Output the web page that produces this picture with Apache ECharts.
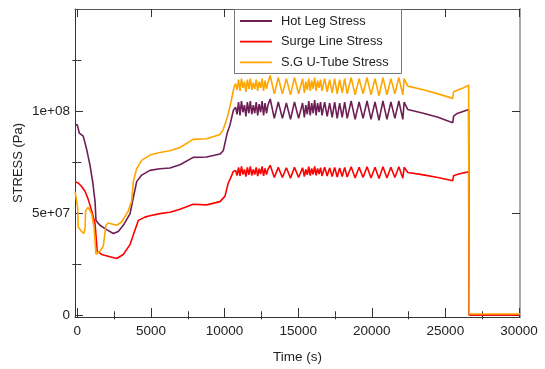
<!DOCTYPE html>
<html>
<head>
<meta charset="utf-8">
<script src="https://cdn.jsdelivr.net/npm/echarts@6/dist/echarts.min.js"></script>
<style>
html,body{margin:0;padding:0;background:#fff;}
#chart{width:545px;height:369px;}
</style>
</head>
<body>
<div id="chart"></div>
<script>
// Values are in units of 1e6 Pa, time in seconds
const UNIT = 1e6;
const seriesNames = ['Hot Leg Stress', 'Surge Line Stress', 'S.G U-Tube Stress'];
const xMajorTicks = [0, 5000, 10000, 15000, 20000, 25000, 30000];
const xMinorTicks = [2500, 7500, 12500, 17500, 22500, 27500];
const yMajorTicks = [0, 5e7, 1e8];
const yMinorTicks = [2.5e7, 7.5e7, 1.25e8];
const yTickLabels = ['0', '5e+07', '1e+08'];

const hotLegEarly = [[-150,93.3],[0,93.3],[130,89.3],[400,87.8],[630,81.4],[860,73.5],[1040,65.5],[1200,56],[1265,46.5],[1535,44.1],[1990,42],[2440,40.1],[2780,41],[3120,44.1],[3575,49.7],[3800,57.6],[4030,65.5],[4370,68.7],[4930,71],[5600,71.8],[6290,72.2],[6970,73.8],[7870,77.4],[8780,77.6],[9690,79],[9910,80.6],[10180,89.3],[10370,93.3],[10600,100.5]];
const surgeEarly = [[-150,65.5],[60,64.8],[290,63.1],[520,60.8],[740,56.8],[970,51.2],[1200,44.9],[1350,31.4],[1650,29.8],[2215,28.7],[2670,27.8],[3120,29.8],[3575,34.6],[3910,41.7],[4140,46.5],[4590,48.1],[4930,48.8],[5600,49.8],[6290,50.5],[6970,52],[7870,54.4],[8780,54.1],[9690,55.7],[10030,58.4],[10250,64.8],[10400,67.1],[10600,70.5]];
const uTubeEarly = [[-150,60.5],[-50,60.5],[20,52.9],[60,43.3],[290,41],[450,40.1],[520,42.5],[560,51.2],[740,52.9],[970,49.7],[1130,43.3],[1265,29.8],[1535,31.4],[1760,33.8],[1940,44.1],[2100,45.2],[2670,44.1],[3010,45.7],[3460,51.2],[3690,56],[3800,65.5],[4030,71.9],[4370,75.9],[4930,78.5],[5600,79.8],[6290,80.6],[6970,82.2],[7870,86.2],[8780,86.5],[9690,88.6],[9910,91],[10200,97.3],[10450,105],[10650,112]];

const plateauTime = [10750,10850,10950,11050,11150,11250,11350,11450,11550,11650,11750,11850,11950,12050,12150,12250,12350,12450,12550,12650,12750,12850,12950,
  13100,13380,13650,13930,14200,14480,14750,15030,15300,
  15420,15520,15620,15720,15820,15920,16020,16120,16220,16320,16420,16520,16620,
  16800,16970,17140,17310,17480,17650,17820,17990,18160,18330,
  18600,18870,19140,19410,19680,19950,20220,20490,20760,21030,21300,21570,21840,22110,
  22200];
const hotLegPlateau = [102,98.5,104.5,98,105,99.5,103,97.5,104.5,99,105,98.5,103,99,104.5,98,103.5,99.5,105,98,104,99,103,
  106,96.5,104.5,96.5,104,96,104.5,96.5,104,
  97,103,98.5,105,98,104,99,105.5,98,104,99.5,104.5,98,
  104.5,97.5,104,97,104.5,96.5,104,97,104.5,96.5,
  105,96,104.5,96.5,105,96,104.5,95.5,105,96,104.5,96.5,105,96,
  104.5];
const surgePlateau = [71,68.5,72.5,68.3,73,69,71.5,68,72.5,68.8,73,68.5,71.5,69,72.5,68.2,71.8,69.2,73,68.3,72,69,71.5,
  73.5,67.5,72.5,67.5,72.3,67.2,72.5,67.5,72.3,
  68,71.5,68.8,72.8,68.5,72,69,73,68.5,72,69.2,72.3,68.3,
  72.5,68.3,72.2,68,72.5,67.8,72.2,68,72.5,67.8,
  72.8,67.3,72.5,67.5,72.8,67.3,72.5,67,72.8,67.3,72.5,67.5,72.8,67.2,
  72.5];
const uTubePlateau = [113.5,110.5,115.5,110,116,111.5,114.5,109.5,115.5,111,116,110.5,114,111,115.5,110,114.5,111.5,116,110,115,111,114,
  117.5,108.5,116.5,108.5,116,108,116.5,108.5,116,
  109,114.5,110.5,116,110,115,111,116.5,110,115,111.5,115.5,110,
  116,109.5,115.5,109,116,108.5,115.5,109,116,108.5,
  116.5,108,116,108.5,116.5,108,116,107.5,116.5,108,116,108.5,116.5,108,
  116];

const hotLegLate = [[22450,100.8],[23500,99],[24500,97],[25500,94.4],[25560,97.6],[25800,98.9],[26250,100],[26580,100.8],[26620,0.2],[30070,0.2]];
const surgeLate = [[22450,70],[23500,68.8],[24500,67.5],[25500,65.9],[25560,68.4],[25800,69],[26250,69.8],[26580,70.3],[26620,0.2],[30070,0.2]];
const uTubeLate = [[22450,112.3],[23500,110.5],[24500,108.5],[25500,106.3],[25560,109.5],[25800,110.3],[26250,111.5],[26580,112.8],[26620,0.6],[30070,0.6]];

function build(early, plateau, late) {
  const pts = [];
  early.forEach(p => pts.push([p[0], p[1] * UNIT]));
  plateauTime.forEach((t, i) => pts.push([t, plateau[i] * UNIT]));
  late.forEach(p => pts.push([p[0], p[1] * UNIT]));
  return pts;
}

const X_MIN = -160, X_MAX = 30070, Y_MIN = -0.85e6, Y_MAX = 150.1e6;
const axisColor = '#333';
const labelFont = { fontFamily: 'Liberation Sans, Arial, sans-serif', fontSize: 13.5, color: '#222' };
// thin horizontal bar icon centred in a 32x14 box (the tiny top/bottom bars only fix the box height)
const lineIcon = 'path://M0,0H32V0.01H0Z M0,6.1H32V7.9H0Z M0,14H32V14.01H0Z';

function xAx(position, ticks, len, opts) {
  return Object.assign({
    type: 'value', position: position, min: X_MIN, max: X_MAX, offset: 0,
    splitLine: { show: false },
    axisLine: { show: false },
    axisTick: { show: true, inside: true, length: len, customValues: ticks, lineStyle: { color: axisColor } },
    axisLabel: { show: false }
  }, opts || {});
}
function yAx(position, ticks, len, opts) {
  return Object.assign({
    type: 'value', position: position, min: Y_MIN, max: Y_MAX, offset: 0,
    splitLine: { show: false },
    axisLine: { show: false },
    axisTick: { show: true, inside: true, length: len, customValues: ticks, lineStyle: { color: axisColor } },
    axisLabel: { show: false }
  }, opts || {});
}

const chart = echarts.init(document.getElementById('chart'), null, { renderer: 'canvas' });
chart.setOption({
  animation: false,
  backgroundColor: '#fff',
  grid: { left: 75, top: 9, width: 445, height: 317, containLabel: false, show: false },
  xAxis: [
    xAx('bottom', xMajorTicks, 9, {
      axisLine: { show: true, onZero: false, lineStyle: { color: axisColor, width: 1 } },
      axisLabel: { show: true, customValues: xMajorTicks, margin: 7, formatter: v => String(v), ...labelFont },
      name: 'Time (s)', nameLocation: 'middle', nameGap: 33,
      nameTextStyle: { fontFamily: 'Liberation Sans, Arial, sans-serif', fontSize: 13.5, color: '#222' }
    }),
    xAx('bottom', xMinorTicks, 4),
    xAx('top', xMajorTicks, 8, { axisLine: { show: true, onZero: false, lineStyle: { color: '#555', width: 1 } } }),
    xAx('top', xMinorTicks, 4)
  ],
  yAxis: [
    yAx('left', yMajorTicks, 8, {
      axisLine: { show: true, onZero: false, lineStyle: { color: axisColor, width: 1 } },
      axisLabel: { show: true, customValues: yMajorTicks, margin: 5,
        formatter: v => yTickLabels[yMajorTicks.indexOf(v)], ...labelFont }
    }),
    yAx('left', yMinorTicks, 4),
    yAx('right', yMajorTicks, 8, { axisLine: { show: true, onZero: false, lineStyle: { color: '#aaa', width: 2 } } }),
    yAx('right', yMinorTicks, 5)
  ],
  legend: {
    data: seriesNames,
    orient: 'vertical',
    left: 240, top: 14,
    padding: 0,
    icon: lineIcon,
    itemWidth: 32, itemHeight: 14, itemGap: 6.7,
    textStyle: { fontFamily: 'Liberation Sans, Arial, sans-serif', fontSize: 12.8, color: '#222', padding: [0, 0, 0, 4] },
    z: 10
  },
  graphic: [
    { type: 'rect', z: 5, shape: { x: 234.5, y: 9.5, width: 167, height: 64 },
      style: { fill: '#fff', stroke: '#777', lineWidth: 1 } },
    { type: 'text', z: 5, x: 18, y: 163, rotation: Math.PI / 2,
      style: { text: 'STRESS (Pa)', fontFamily: 'Liberation Sans, Arial, sans-serif', fontSize: 13,
               fill: '#222', align: 'center', verticalAlign: 'middle' } }
  ],
  series: [
    { name: seriesNames[0], type: 'line', data: build(hotLegEarly, hotLegPlateau, hotLegLate),
      symbol: 'none', lineStyle: { color: '#6d1f55', width: 1.6 }, itemStyle: { color: '#6d1f55' }, z: 2 },
    { name: seriesNames[1], type: 'line', data: build(surgeEarly, surgePlateau, surgeLate),
      symbol: 'none', lineStyle: { color: '#ff0000', width: 1.6 }, itemStyle: { color: '#ff0000' }, z: 2 },
    { name: seriesNames[2], type: 'line', data: build(uTubeEarly, uTubePlateau, uTubeLate),
      symbol: 'none', lineStyle: { color: '#ffa500', width: 1.6 }, itemStyle: { color: '#ffa500' }, z: 2 }
  ]
});
</script>
</body>
</html>
